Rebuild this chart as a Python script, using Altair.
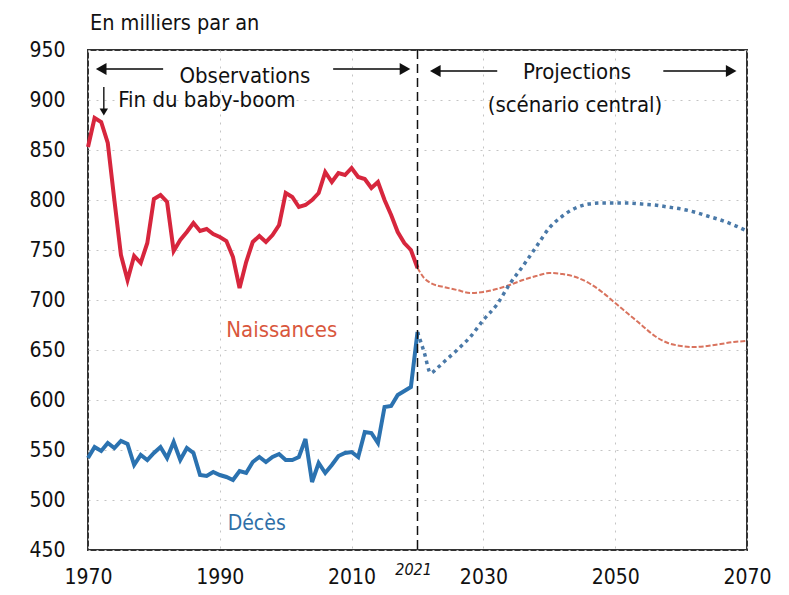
import altair as alt
import pandas as pd

FONT = "DejaVu Sans Condensed, DejaVu Sans, sans-serif"

# ---- data ----
obs_years = list(range(1970, 2021))
births_obs = [853, 882, 878, 857, 800, 745, 720, 744, 737, 757,
              801, 805, 798, 749, 760, 768, 777, 769, 771, 766,
              763, 759, 743, 712, 738, 758, 764, 758, 765, 775,
              807, 803, 793, 795, 800, 807, 828, 818, 827, 825,
              832, 823, 821, 812, 818, 800, 785, 768, 757, 750,
              732]
deaths_obs = [542, 553, 549, 557, 552, 559, 556, 535, 545, 540,
              547, 553, 542, 558, 540, 552, 547, 525, 524, 528,
              525, 523, 520, 529, 527, 538, 543, 538, 543, 546,
              540, 540, 543, 561, 518, 537, 527, 535, 544, 547,
              548, 543, 568, 567, 557, 593, 594, 605, 609, 613,
              668]

proj_years_b = [2020, 2021, 2022, 2024, 2026, 2028, 2030, 2032, 2034, 2036,
                2038, 2040, 2042, 2044, 2046, 2048, 2050, 2052, 2054, 2056,
                2058, 2060, 2062, 2064, 2066, 2068, 2070]
births_proj = [732, 722, 717, 713, 710, 707, 708, 711, 715, 720,
               724, 727, 726, 723, 717, 708, 697, 686, 675, 664,
               657, 654, 653, 654, 656, 658, 659]

proj_years_d = [2020, 2021, 2022, 2023, 2024, 2026, 2028, 2030, 2032, 2034,
                2036, 2038, 2040, 2042, 2044, 2046, 2048, 2050, 2052, 2054,
                2056, 2058, 2060, 2062, 2064, 2066, 2068, 2070]
deaths_proj = [668, 648, 627, 632, 638, 650, 663, 680, 695, 716,
               734, 753, 772, 784, 792, 796, 797, 797, 797, 796,
               795, 793, 791, 788, 784, 780, 775, 769]

x_ticks = [1970, 1990, 2010, 2030, 2050, 2070]
y_ticks = [450, 500, 550, 600, 650, 700, 750, 800, 850, 900, 950]

center_texts = ["Observations", "Projections", "(scénario central)"]
center_years = [1993.8, 2044.2, 2043.9]
center_vals = [917, 921, 888]

xs = alt.Scale(domain=[1970, 2070], nice=False, zero=False)
ys = alt.Scale(domain=[450, 950], nice=False, zero=False)

x_axis = alt.Axis(values=x_ticks, format="d", ticks=False, domain=False,
                  labelFontSize=21, labelFont=FONT, labelColor="#111",
                  labelFlush=False, labelOverlap=False,
                  labelPadding=16, grid=True, gridColor="#c4c4c4",
                  gridDash=[2, 6], gridWidth=1, title=None)
y_axis = alt.Axis(values=y_ticks, format="d", ticks=False, domain=False,
                  labelFontSize=21, labelFont=FONT, labelColor="#111",
                  labelFlush=False, labelOverlap=False,
                  labelPadding=23, grid=True, gridColor="#c4c4c4",
                  gridDash=[2, 6], gridWidth=1, title=None)

df_bo = pd.DataFrame({"year": obs_years, "val": births_obs})
df_do = pd.DataFrame({"year": obs_years, "val": deaths_obs})
df_bp = pd.DataFrame({"year": proj_years_b, "val": births_proj})
df_dp = pd.DataFrame({"year": proj_years_d, "val": deaths_proj})

X = alt.X("year:Q", scale=xs, axis=x_axis, title=None)
Y = alt.Y("val:Q", scale=ys, axis=y_axis, title=None)

line_bp = alt.Chart(df_bp).mark_line(color="#d9735e", strokeWidth=2,
                                     strokeDash=[5, 2], interpolate="monotone").encode(x=X, y=Y)
line_dp = alt.Chart(df_dp).mark_line(color="#4a79a8", strokeWidth=3.5,
                                     strokeDash=[3.5, 4], interpolate="monotone").encode(x=X, y=Y)
line_bo = alt.Chart(df_bo).mark_line(color="#d7263d", strokeWidth=4).encode(x=X, y=Y)
line_do = alt.Chart(df_do).mark_line(color="#2b72b0", strokeWidth=4).encode(x=X, y=Y)

vline = alt.Chart(pd.DataFrame({"year": [2020]})).mark_rule(
    color="#111", strokeWidth=1.5, strokeDash=[9, 5]).encode(x=X)

# arrows
arrows = pd.DataFrame({
    "year": [1972.3, 2007.2, 2023.0, 2057.3],
    "x2": [1981.4, 2017.8, 2032.1, 2067.3],
    "val": [931, 931, 929, 929],
})
shafts = alt.Chart(arrows).mark_rule(color="#444", strokeWidth=2).encode(
    x=X, x2="x2:Q", y=Y)
heads_l = pd.DataFrame({"year": [1972.0, 2022.7], "val": [931, 929]})
heads_r = pd.DataFrame({"year": [2018.1, 2067.6], "val": [931, 929]})
hl = alt.Chart(heads_l).mark_point(shape="triangle-left", filled=True, color="#111",
                                   size=150, opacity=1).encode(x=X, y=Y)
hr = alt.Chart(heads_r).mark_point(shape="triangle-right", filled=True, color="#111",
                                   size=150, opacity=1).encode(x=X, y=Y)
down = pd.DataFrame({"year": [1972.4], "val": [913], "v2": [890]})
down_shaft = alt.Chart(down).mark_rule(color="#222", strokeWidth=1.5).encode(
    x=X, y=Y, y2="v2:Q")
down_head = alt.Chart(pd.DataFrame({"year": [1972.4], "val": [888]})).mark_point(
    shape="triangle-down", filled=True, color="#111", size=70, opacity=1).encode(x=X, y=Y)

ann = alt.Chart(pd.DataFrame({"t": center_texts, "year": center_years, "val": center_vals})).mark_text(
    font=FONT, fontSize=22, color="#111", baseline="alphabetic", align="center").encode(
    x=X, y=Y, text="t:N")
fin = alt.Chart(pd.DataFrame({"t": ["Fin du baby-boom"], "year": [1974.6], "val": [893]})).mark_text(
    font=FONT, fontSize=22, color="#111", baseline="alphabetic", align="left").encode(
    x=X, y=Y, text="t:N")
naiss = alt.Chart(pd.DataFrame({"t": ["Naissances"], "year": [1999.4], "val": [663]})).mark_text(
    font=FONT, fontSize=22, color="#d9573d", baseline="alphabetic").encode(x=X, y=Y, text="t:N")
deces = alt.Chart(pd.DataFrame({"t": ["Décès"], "year": [1995.6], "val": [470]})).mark_text(
    font=FONT, fontSize=21, color="#2e6fa8", baseline="alphabetic").encode(x=X, y=Y, text="t:N")
y2021 = alt.Chart(pd.DataFrame({"t": ["2021"], "year": [2019.4], "val": [425]})).mark_text(
    font=FONT, fontSize=16, fontStyle="italic", color="#111", baseline="alphabetic").encode(
    x=X, y=Y, text="t:N")
unit = alt.Chart(pd.DataFrame({"t": ["En milliers par an"], "year": [1970.3], "val": [970]})).mark_text(
    font=FONT, fontSize=21.5, color="#111", baseline="alphabetic", align="left").encode(
    x=X, y=Y, text="t:N")

chart = alt.layer(
    line_bp, line_dp, line_bo, line_do, vline, shafts, hl, hr,
    down_shaft, down_head, ann, fin, naiss, deces, y2021, unit
).properties(
    width=659, height=500, autosize="none", background="white",
    padding={"left": 80, "top": 42, "right": 34, "bottom": 44},
).configure_view(stroke="#333", strokeWidth=2)

chart.save("out.html", embed_options={"renderer": "svg", "actions": False})
